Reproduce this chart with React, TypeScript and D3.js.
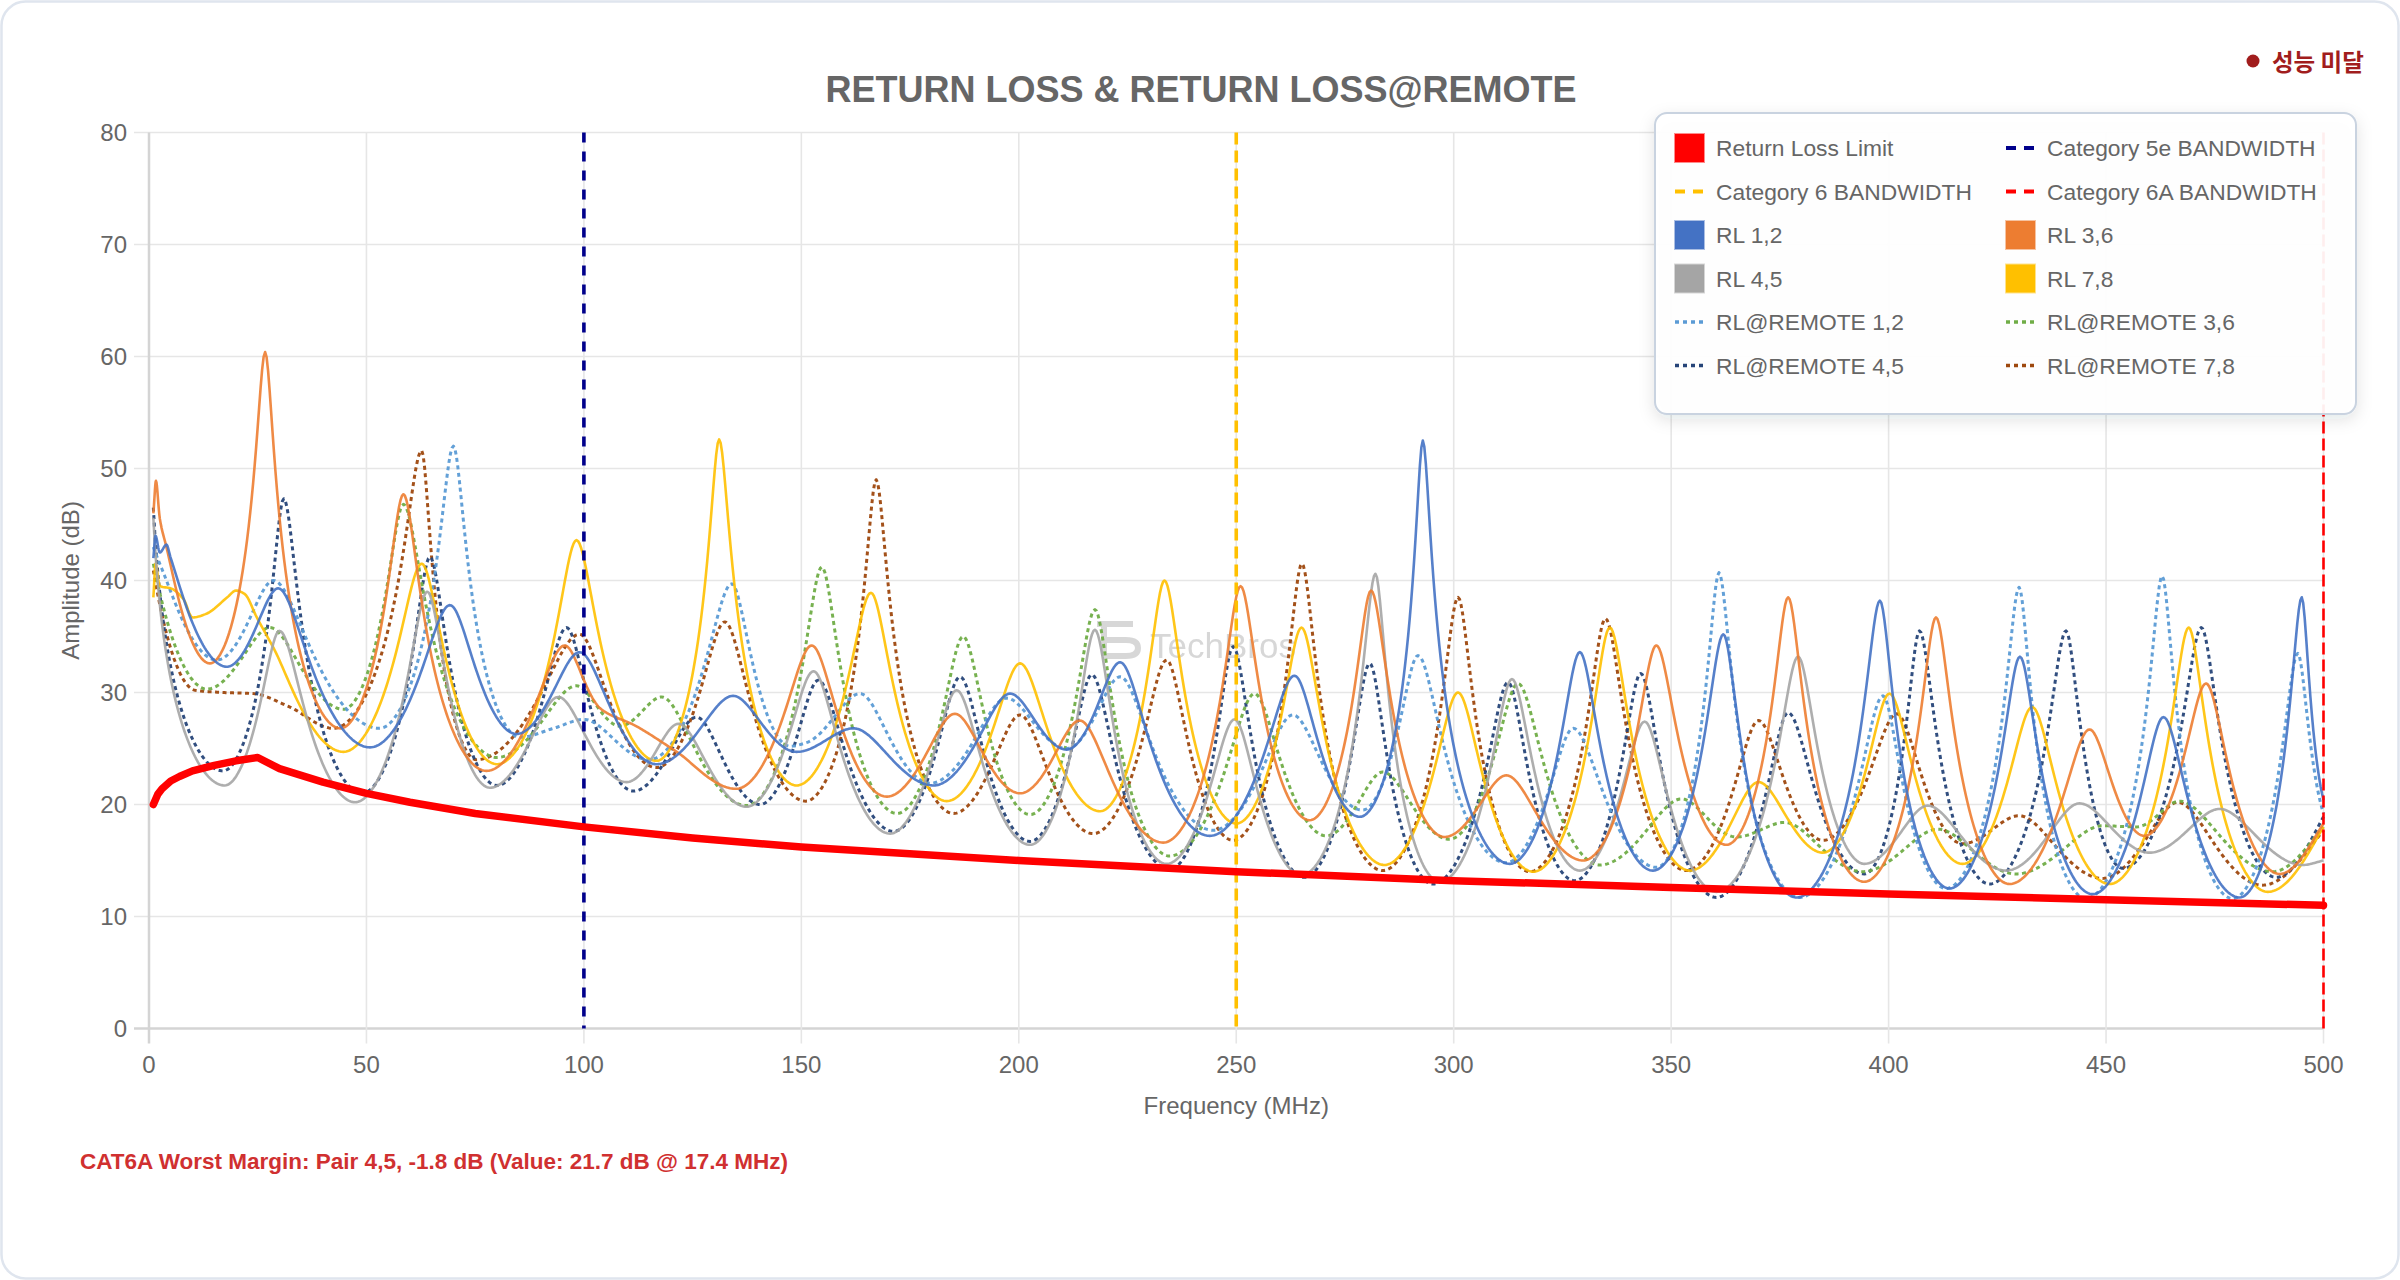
import React from 'react';
import * as d3 from 'd3';

// ---------- data ----------
type Pt = [number, number];

const FREQ_TICKS = [0, 50, 100, 150, 200, 250, 300, 350, 400, 450, 500];
const AMP_TICKS = [0, 10, 20, 30, 40, 50, 60, 70, 80];

const BANDWIDTH_NAMES = ['Category 5e BANDWIDTH', 'Category 6 BANDWIDTH', 'Category 6A BANDWIDTH'];
const BANDWIDTH_FREQS = [100, 250, 500];

const RETURN_LOSS_LIMIT: Pt[] = [
  [1, 20], [2, 20.9], [3, 21.4], [5, 22.1], [7, 22.5], [10, 23], [15, 23.5], [20, 23.9], [25, 24.2],
  [30, 23.2], [40, 22], [50, 21], [60, 20.2], [75, 19.2], [100, 18], [125, 17], [150, 16.2],
  [200, 15], [250, 14], [300, 13.2], [350, 12.6], [400, 12], [450, 11.5], [500, 11],
];

const RL_12: Pt[] = [
  [1, 42], [1.5, 44], [2.5, 42.5], [4, 43.2], [5, 42], [17.9, 32.3], [29.7, 39.3], [50.8, 25.1],
  [69.2, 37.8], [84.5, 26.3], [99, 33.6], [116.7, 23.6], [134.3, 29.7], [148.9, 24.7], [162, 26.8],
  [180.4, 21.7], [198, 29.9], [211, 24.9], [223.3, 32.7], [243.9, 17.2], [263.4, 31.5], [278.4, 18.9],
  [292.9, 52.5], [312.9, 14.7], [329, 33.6], [345.8, 14.1], [362, 35.2], [378.8, 11.7], [398, 38.2],
  [414, 12.5], [430.2, 33.2], [446.9, 12], [463.2, 27.8], [480.7, 11.7], [495, 38.5], [500, 20.4],
];

const RL_36: Pt[] = [
  [1, 46], [1.6, 48.9], [2.5, 45.5], [4, 43], [14, 32.6], [26.7, 60.4], [44, 26.8], [58.5, 47.7],
  [77.6, 23], [95.6, 34.2], [104, 28.5], [112, 27], [121, 24.8], [135, 21.4], [152.4, 34.2],
  [169.6, 20.7], [185.3, 28.1], [200.3, 21], [214, 27.5], [233.2, 16.6], [251, 39.5], [266.9, 18.6],
  [281, 39.1], [297.9, 17.1], [312.1, 22.6], [329.8, 15], [346.6, 34.2], [362.7, 16.4], [376.9, 38.5],
  [394.4, 13.1], [410.9, 36.7], [427.8, 12.9], [446.2, 26.7], [458.8, 17.2], [473, 30.8], [489.9, 13.8],
  [500, 18.3],
];

const RL_45: Pt[] = [
  [1, 45.6], [17.4, 21.7], [30, 35.5], [47.4, 20.2], [64, 39], [78.4, 21.5], [94.1, 29.6], [109.8, 22],
  [121.7, 27.2], [137.4, 19.8], [152.8, 31.9], [170.4, 17.4], [185.7, 30.2], [202.6, 16.4], [217.5, 35.6],
  [234, 14.7], [249.6, 27.6], [265, 13.7], [282, 40.6], [296.8, 13.1], [313.4, 31.2], [329, 14.1],
  [343.9, 27.4], [360.4, 12.2], [379.2, 33.2], [394.4, 14.7], [409, 19.9], [427, 14.1], [443.9, 20.1],
  [460, 15.7], [476.1, 19.6], [495.2, 14.6], [500, 15],
];

const RL_78: Pt[] = [
  [1, 38.5], [1.5, 41.5], [2.5, 39.5], [5, 39.3], [8, 38.3], [10, 36.7], [13, 37], [18, 38.5], [20, 39.1],
  [22, 38.8], [24.8, 36.7], [28.6, 34], [44.7, 24.7], [62.7, 41.5], [80, 23.6], [98.3, 43.6], [116.7, 23.9],
  [131.1, 52.6], [148.9, 21.7], [166, 38.9], [183.4, 20.3], [200.3, 32.6], [218.7, 19.4], [233.5, 40],
  [250, 18.3], [265, 35.8], [284.1, 14.6], [301, 30], [318.3, 14], [335.9, 35.8], [354.3, 14.1],
  [370.1, 22], [384.9, 15.7], [400.2, 29.9], [417, 14.7], [433, 28.7], [450.8, 12.9], [469, 35.8],
  [487.2, 12.2], [500, 18],
];

const REMOTE_12: Pt[] = [
  [1, 43], [3, 41], [15.6, 32.9], [28.6, 40], [53, 26.8], [70, 52], [85.3, 26], [93, 26.8], [100, 27.6],
  [115, 24], [134, 39.7], [147.4, 25.2], [151, 25.5], [163.5, 29.9], [179.6, 21.9], [197.2, 29.5],
  [211, 25], [223.3, 31.4], [244.7, 17.7], [263, 28], [279, 19.5], [291.8, 33.3], [312, 14.8],
  [327.5, 26.8], [346.6, 14.4], [361, 40.7], [379.5, 11.7], [398.7, 29.7], [413.2, 12.5], [430, 39.4],
  [445.4, 11.6], [462.9, 40.4], [479.1, 11.6], [494.1, 33.5], [500, 19.2],
];

const REMOTE_36: Pt[] = [
  [1, 41.5], [13.3, 30.3], [27.8, 35.8], [44.7, 28.5], [58.5, 46.8], [80, 24.2], [98.3, 30.6], [108.3, 27],
  [117.9, 29.6], [137.4, 19.9], [154.7, 41.2], [172, 19.2], [187.2, 35], [202.6, 19.1], [217.5, 37.4],
  [234.7, 15.4], [254.2, 29.9], [270.7, 17.2], [283.7, 22.9], [299, 16.9], [314.8, 30.8], [333.6, 14.6],
  [352.4, 20.5], [365, 17.1], [376.1, 18.4], [394, 14], [411.3, 17.8], [429.3, 13.8], [449.2, 18.1],
  [457, 18], [466.9, 20.3], [488.3, 14], [500, 18],
];

const REMOTE_45: Pt[] = [
  [1, 46.5], [17, 23], [31, 47.3], [49, 21], [64.6, 42.1], [80, 21.7], [96, 35.8], [111.4, 21.2],
  [125.9, 27.8], [140.5, 20], [153.9, 31.1], [171.2, 17.6], [186.5, 31.4], [202.6, 16.7], [216.8, 31.6],
  [234.7, 14.2], [249.3, 34.1], [265.7, 13.5], [280.7, 32.6], [295.2, 12.9], [312.5, 30.9], [327.8, 13.2],
  [343, 31.7], [360.4, 11.7], [376.9, 28.2], [394.4, 13.8], [407.1, 35.5], [423.2, 12.9], [440.8, 35.5],
  [453.9, 14.3], [471.9, 35.8], [489.1, 13.5], [500, 18.9],
];

const REMOTE_78: Pt[] = [
  [1, 40.9], [10.6, 30.2], [17, 30], [24, 29.9], [32.4, 28.7], [42.4, 26.8], [62.7, 51.6], [75.3, 24],
  [99, 35.2], [116.7, 23.3], [132.4, 36.3], [151, 20.3], [167.2, 49], [185, 19.2], [200.3, 28],
  [217.1, 17.4], [234, 32.9], [249.3, 16.8], [265.1, 41.5], [283.7, 14.1], [301, 38.5], [317.5, 14],
  [334.9, 36.6], [353.5, 14.1], [370.1, 27.5], [384.9, 16.8], [401.9, 28.1], [417, 16.5], [430, 19],
  [449.2, 13.4], [466.5, 20.2], [486, 12.8], [500, 17.7],
];

const SERIES_NAMES = [
  'RL 1,2', 'RL 3,6', 'RL 4,5', 'RL 7,8',
  'RL@REMOTE 1,2', 'RL@REMOTE 3,6', 'RL@REMOTE 4,5', 'RL@REMOTE 7,8',
];
const SERIES_DATA = [RL_12, RL_36, RL_45, RL_78, REMOTE_12, REMOTE_36, REMOTE_45, REMOTE_78];
const SERIES_COLORS = ['#4472c4', '#ed7d31', '#a5a5a5', '#ffc000', '#5b9bd5', '#70ad47', '#264478', '#9e480e'];
const BANDWIDTH_COLORS = ['#00008b', '#ffc000', '#ff0000'];
const LIMIT_COLOR = '#ff0000';

const TITLE = 'RETURN LOSS & RETURN LOSS@REMOTE';
const X_TITLE = 'Frequency (MHz)';
const Y_TITLE = 'Amplitude (dB)';
const NOTE = 'CAT6A Worst Margin: Pair 4,5, -1.8 dB (Value: 21.7 dB @ 17.4 MHz)';
const BADGE = '성능 미달';

// ---------- layout ----------
const W = 2400;
const H = 1280;
const PLOT = { left: 149, right: 2323.5, top: 132.5, bottom: 1028.5 };
const FONT = '"Liberation Sans", Arial, Helvetica, sans-serif';

// A curve that keeps the sharp resonance peaks: monotone cubic through the
// points, evaluated in reflection-coefficient space (|Γ| = 10^(-dB/20)).
function resonanceCurve(yScale: d3.ScaleLinear<number, number>): d3.CurveFactory {
  return ((context: any) => {
    let xs: number[] = [];
    let ys: number[] = [];
    return {
      areaStart() {},
      areaEnd() {},
      lineStart() {
        xs = [];
        ys = [];
      },
      point(x: number, y: number) {
        xs.push(+x);
        ys.push(+y);
      },
      lineEnd() {
        const n = xs.length;
        if (!n) return;
        const g = ys.map((py) => Math.pow(10, -yScale.invert(py) / 20));
        const d: number[] = [];
        for (let i = 0; i < n - 1; i++) d.push((g[i + 1] - g[i]) / (xs[i + 1] - xs[i]));
        const m = new Array(n).fill(0);
        if (n > 1) {
          m[0] = d[0];
          m[n - 1] = d[n - 2];
        }
        for (let i = 1; i < n - 1; i++) {
          if (d[i - 1] * d[i] <= 0) m[i] = 0;
          else {
            const h0 = xs[i] - xs[i - 1];
            const h1 = xs[i + 1] - xs[i];
            const w1 = 2 * h1 + h0;
            const w2 = h1 + 2 * h0;
            m[i] = (w1 + w2) / (w1 / d[i - 1] + w2 / d[i]);
          }
        }
        context.moveTo(xs[0], ys[0]);
        for (let i = 0; i < n - 1; i++) {
          const h = xs[i + 1] - xs[i];
          const steps = Math.max(8, Math.ceil(h / 1.5));
          for (let s = 1; s <= steps; s++) {
            const t = s / steps;
            const t2 = t * t;
            const t3 = t2 * t;
            const gv =
              (2 * t3 - 3 * t2 + 1) * g[i] +
              (t3 - 2 * t2 + t) * h * m[i] +
              (-2 * t3 + 3 * t2) * g[i + 1] +
              (t3 - t2) * h * m[i + 1];
            const db = -20 * Math.log10(Math.max(gv, 1e-6));
            context.lineTo(xs[i] + t * h, yScale(db));
          }
        }
      },
    };
  }) as unknown as d3.CurveFactory;
}

export default function App() {
  const x = d3.scaleLinear().domain([0, 500]).range([PLOT.left, PLOT.right]);
  const y = d3.scaleLinear().domain([0, 80]).range([PLOT.bottom, PLOT.top]);

  const seriesLine = d3
    .line<Pt>()
    .x((p) => x(p[0]))
    .y((p) => y(p[1]))
    .curve(resonanceCurve(y));
  const limitLine = d3
    .line<Pt>()
    .x((p) => x(p[0]))
    .y((p) => y(p[1]))
    .curve(d3.curveLinear);

  const isRemote = (i: number) => i >= 4;
  const drawOrder = [7, 6, 5, 4, 3, 2, 1, 0];

  // legend
  const legendItems: { label: string; color: string; kind: 'box' | 'dash' | 'dot' }[] = [
    { label: 'Return Loss Limit', color: LIMIT_COLOR, kind: 'box' },
    ...BANDWIDTH_NAMES.map((n, i) => ({ label: n, color: BANDWIDTH_COLORS[i], kind: 'dash' as const })),
    ...SERIES_NAMES.map((n, i) => ({
      label: n,
      color: SERIES_COLORS[i],
      kind: isRemote(i) ? ('dot' as const) : ('box' as const),
    })),
  ];
  const LEG = { x: 1655, y: 113, w: 701, h: 301 };
  const colX = [1675, 2006];
  const rowY0 = 148;
  const rowStep = 43.5;

  return (
    <div style={{ position: 'absolute', left: 0, top: 0, width: W, height: H, background: '#fff' }}>
      <svg width={W} height={H} viewBox={`0 0 ${W} ${H}`} style={{ display: 'block' }}>
        <defs>
          <clipPath id="plotClip">
            <rect x={PLOT.left - 2} y={PLOT.top - 10} width={PLOT.right - PLOT.left + 4} height={PLOT.bottom - PLOT.top + 12} />
          </clipPath>
          <filter id="legShadow" x="-10%" y="-10%" width="120%" height="130%">
            <feDropShadow dx="0" dy="5" stdDeviation="8" floodColor="#1e293b" floodOpacity="0.12" />
          </filter>
        </defs>

        {/* card */}
        <rect x={1.5} y={1.5} width={W - 3} height={H - 3} rx={24} ry={24} fill="#fff" stroke="#dfe5ee" strokeWidth={2.5} />

        {/* title */}
        <text x={1201} y={89} textAnchor="middle" dominantBaseline="central" fontFamily={FONT} fontWeight="bold" fontSize={36} fill="#666">
          {TITLE}
        </text>

        {/* badge */}
        <circle cx={2253} cy={61} r={6.5} fill="#a11d1d" />
        <text x={2272} y={61} dominantBaseline="central" fontFamily='"Noto Sans CJK KR", sans-serif' fontWeight="bold" fontSize={23.5} fill="#a11d1d">
          {BADGE}
        </text>

        {/* grid */}
        <g>
          {AMP_TICKS.map((t) => (
            <line key={'gy' + t} x1={PLOT.left - 15} x2={PLOT.right} y1={y(t)} y2={y(t)}
              stroke={t === 0 ? '#d4d4d4' : '#e6e6e6'} strokeWidth={t === 0 ? 2.5 : 1.6} />
          ))}
          {FREQ_TICKS.map((t) => (
            <line key={'gx' + t} x1={x(t)} x2={x(t)} y1={PLOT.top} y2={PLOT.bottom + 15}
              stroke={t === 0 ? '#d4d4d4' : '#e6e6e6'} strokeWidth={t === 0 ? 2.5 : 1.6} />
          ))}
        </g>

        {/* tick labels */}
        <g fontFamily={FONT} fontSize={24} fill="#666">
          {AMP_TICKS.map((t) => (
            <text key={'ty' + t} x={127} y={y(t)} textAnchor="end" dominantBaseline="central">
              {t}
            </text>
          ))}
          {FREQ_TICKS.map((t) => (
            <text key={'tx' + t} x={x(t)} y={1064} textAnchor="middle" dominantBaseline="central">
              {t}
            </text>
          ))}
        </g>

        {/* axis titles */}
        <text x={(PLOT.left + PLOT.right) / 2} y={1105} textAnchor="middle" dominantBaseline="central" fontFamily={FONT} fontSize={24} fill="#666">
          {X_TITLE}
        </text>
        <text transform={`translate(70, ${(PLOT.top + PLOT.bottom) / 2}) rotate(-90)`} textAnchor="middle" dominantBaseline="central" fontFamily={FONT} fontSize={24} fill="#666">
          {Y_TITLE}
        </text>

        {/* watermark */}
        <g opacity={0.55}>
          <path d="M1097,624 H1133 M1104,624 V656 M1104,640 H1126 Q1138,640 1138,648 Q1138,656 1126,656 H1104"
            fill="none" stroke="#b8b8b8" strokeWidth={6} />
          <text x={1150} y={658} fontFamily={FONT} fontSize={35} fill="#b8b8b8">TechBros</text>
        </g>

        {/* series */}
        <g clipPath="url(#plotClip)" fill="none" strokeLinejoin="round">
          {drawOrder.map((i) => (
            <path key={SERIES_NAMES[i]} d={seriesLine(SERIES_DATA[i]) || ''} stroke={SERIES_COLORS[i]}
              strokeWidth={isRemote(i) ? 3 : 2.6} strokeDasharray={isRemote(i) ? '4 3.5' : undefined}
              opacity={isRemote(i) ? 0.95 : 0.9} />
          ))}
        </g>

        {/* bandwidth markers */}
        {BANDWIDTH_FREQS.map((f, i) => (
          <line key={BANDWIDTH_NAMES[i]} x1={x(f)} x2={x(f)} y1={PLOT.top} y2={PLOT.bottom}
            stroke={BANDWIDTH_COLORS[i]} strokeWidth={i === 2 ? 2.6 : 3.6}
            strokeDasharray={i === 0 ? '10 9' : i === 1 ? '12 6' : '12 5'} />
        ))}

        {/* return loss limit */}
        <path d={limitLine(RETURN_LOSS_LIMIT) || ''} fill="none" stroke={LIMIT_COLOR} strokeWidth={7.5} strokeLinejoin="round" strokeLinecap="round" />

        {/* legend */}
        <g>
          <rect x={LEG.x} y={LEG.y} width={LEG.w} height={LEG.h} rx={12} ry={12} fill="rgba(255,255,255,0.93)"
            stroke="#c9d3e0" strokeWidth={2} filter="url(#legShadow)" />
          {legendItems.map((it, k) => {
            const cx = colX[k % 2];
            const cy = rowY0 + Math.floor(k / 2) * rowStep;
            return (
              <g key={it.label}>
                {it.kind === 'box' && (
                  <rect x={cx} y={cy - 14} width={29} height={28} fill={it.color} stroke={it.color} strokeOpacity={0.45} strokeWidth={2} />
                )}
                {it.kind === 'dash' && (
                  <line x1={cx} x2={cx + 29} y1={cy} y2={cy} stroke={it.color} strokeWidth={4} strokeDasharray="10 8" />
                )}
                {it.kind === 'dot' && (
                  <line x1={cx} x2={cx + 29} y1={cy} y2={cy} stroke={it.color} strokeWidth={3.5} strokeDasharray="4 4" />
                )}
                <text x={cx + 41} y={cy} dominantBaseline="central" fontFamily={FONT} fontSize={22.8} fill="#666">
                  {it.label}
                </text>
              </g>
            );
          })}
        </g>

        {/* note */}
        <text x={80} y={1161} dominantBaseline="central" fontFamily={FONT} fontWeight="bold" fontSize={22.5} fill="#d03030">
          {NOTE}
        </text>
      </svg>
    </div>
  );
}
